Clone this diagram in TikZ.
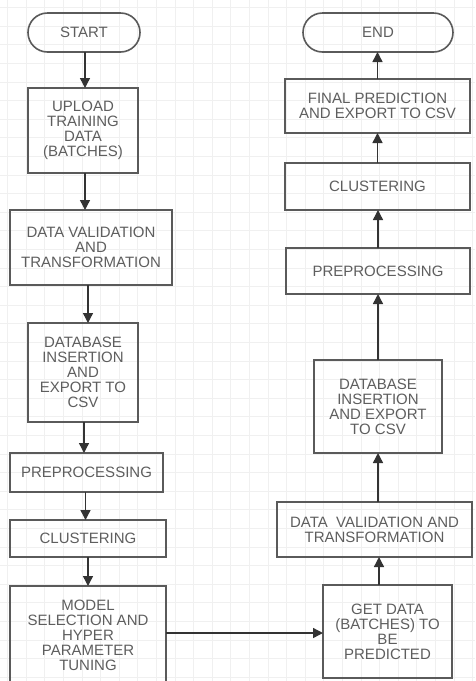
\documentclass[tikz,border=0pt]{standalone}
\usepackage{fontspec}
\setmainfont{Liberation Sans}
\usetikzlibrary{arrows.meta,shapes.misc}
\definecolor{boxline}{HTML}{5A5A5A}
\definecolor{txt}{HTML}{5E5E5E}
\definecolor{gridc}{HTML}{F0F0F0}
\begin{document}
\begin{tikzpicture}[x=1pt,y=-1pt,
  box/.style={draw=boxline,line width=1.6pt,rectangle,inner sep=0pt,outer sep=0pt,
    align=center,text=txt,font=\fontsize{15}{15}\selectfont},
  term/.style={box,rounded rectangle},
  arr/.style={draw=black!80,line width=1.4pt,-{Triangle[width=10pt,length=10pt]}}]
\useasboundingbox (0,0) rectangle (475,681);
\clip (0,0) rectangle (475,681);
\fill[white] (0,0) rectangle (475,681);
\foreach \k in {-9,...,16} \draw[gridc,line width=0.7pt] ({175+18.6*\k},0) -- ({175+18.6*\k},681);
\foreach \k in {-4,...,32} \draw[gridc,line width=0.7pt] (0,{82+18.6*\k}) -- (475,{82+18.6*\k});
% left column
\node[term,minimum width=112pt,minimum height=39pt] (start) at (84,32.5) {START};
\node[box,minimum width=110pt,minimum height=85pt] (upload) at (83,130.5) {UPLOAD\\TRAINING\\DATA\\(BATCHES)};
\node[box,minimum width=162pt,minimum height=75pt] (dv) at (91,247.5) {DATA VALIDATION\\AND\\TRANSFORMATION};
\node[box,minimum width=110pt,minimum height=99pt] (db) at (83,372.5) {DATABASE\\INSERTION\\AND\\EXPORT TO\\CSV};
\node[box,minimum width=153pt,minimum height=39pt] (pre) at (86.5,472.5) {PREPROCESSING};
\node[box,minimum width=156pt,minimum height=37pt] (clu) at (88,538.5) {CLUSTERING};
\node[box,minimum width=156pt,minimum height=98pt] (model) at (88,635) {MODEL\\SELECTION AND\\HYPER\\PARAMETER\\TUNING};
% right column
\node[term,minimum width=150pt,minimum height=39pt] (end) at (378,32.5) {END};
\node[box,minimum width=185pt,minimum height=54pt] (final) at (377.5,106) {FINAL PREDICTION\\AND EXPORT TO CSV};
\node[box,minimum width=185pt,minimum height=47pt] (clu2) at (377.5,186.5) {CLUSTERING};
\node[box,minimum width=184pt,minimum height=46pt] (pre2) at (378,271) {PREPROCESSING};
\node[box,minimum width=128pt,minimum height=93pt] (db2) at (378,406.5) {DATABASE\\INSERTION\\AND EXPORT\\TO CSV};
\node[box,minimum width=195pt,minimum height=55pt] (dv2) at (374.5,529.5) {DATA\ \ VALIDATION AND\\TRANSFORMATION};
\node[box,minimum width=129pt,minimum height=93pt] (get) at (387.5,631.5) {GET DATA\\(BATCHES) TO\\BE\\PREDICTED};
% connectors
\draw[arr] ([xshift=1pt]start.south) -- ([xshift=1pt]start.south |- upload.north);
\draw[arr] ([xshift=2pt]upload.south) -- ([xshift=2pt]upload.south |- dv.north);
\draw[arr] ([xshift=5pt]upload.south |- dv.south) -- ([xshift=5pt]db.north);
\draw[arr] ([xshift=1pt]db.south) -- ([xshift=1pt]db.south |- pre.north);
\draw[arr] ([xshift=-1pt]pre.south) -- ([xshift=-1pt]pre.south |- clu.north);
\draw[arr] (clu.south) -- (model.north);
\draw[arr] (model.east |- 0,633) -- (get.west |- 0,633);
\draw[arr] ([xshift=-8.5pt]get.north) -- ([xshift=-8.5pt]get.north |- dv2.south);
\draw[arr] (db2.south |- dv2.north) -- (db2.south);
\draw[arr] (db2.north) -- (db2.north |- pre2.south);
\draw[arr] (pre2.north) -- (pre2.north |- clu2.south);
\draw[arr] (clu2.north) -- (clu2.north |- final.south);
\draw[arr] (final.north) -- (final.north |- end.south);
\end{tikzpicture}
\end{document}
